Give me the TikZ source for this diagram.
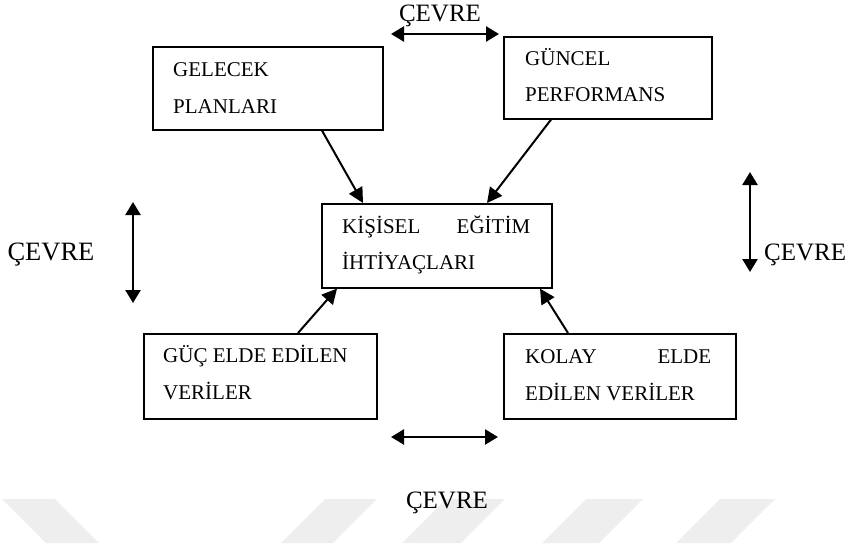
\documentclass[tikz,border=0pt]{standalone}
\usepackage{fontspec}
\setmainfont{Liberation Serif}
\usetikzlibrary{arrows.meta}

\begin{document}
\begin{tikzpicture}[x=1pt, y=-1pt,
    box/.style={draw, line width=1.6pt, inner sep=0pt, anchor=north west},
    txt/.style={anchor=base west, inner sep=0pt, font=\fontsize{21}{25}\selectfont},
    env/.style={anchor=base, inner sep=0pt, font=\fontsize{25}{30}\selectfont},
    arr/.style={line width=2pt, -{Triangle[length=15pt,width=15pt]}},
    dbl/.style={line width=2.4pt, {Triangle[length=13pt,width=15pt]}-{Triangle[length=13pt,width=15pt]}}]
    \definecolor{wm-gray}{rgb}{0.935,0.935,0.935}
    \useasboundingbox (0,0) rectangle (853,543);
    \fill[wm-gray] (2,499) -- (55,499) -- (99,543) -- (46,543) -- cycle;
    \fill[wm-gray] (325,499) -- (377,499) -- (333,543) -- (281,543) -- cycle;
    \fill[wm-gray] (446,499) -- (505,499) -- (461,543) -- (402,543) -- cycle;
    \fill[wm-gray] (586,499) -- (643,499) -- (599,543) -- (542,543) -- cycle;
    \fill[wm-gray] (720,499) -- (775,499) -- (731,543) -- (676,543) -- cycle;
    \node[box, minimum width=230pt, minimum height=83pt] (plan) at (152,46) {};
    \node[box, minimum width=208pt, minimum height=82pt] (perf) at (503,36) {};
    \node[box, minimum width=230pt, minimum height=84pt] (need) at (321,203) {};
    \node[box, minimum width=233pt, minimum height=85pt] (hard) at (143,333) {};
    \node[box, minimum width=232pt, minimum height=85pt] (easy) at (503,333) {};
    \node[txt] (plan1) at ([shift={(21,31)}]plan.north west) {GELECEK};
    \node[txt] (plan2) at ([shift={(21,67)}]plan.north west) {PLANLARI};
    \node[txt] (perf1) at ([shift={(22,29)}]perf.north west) {GÜNCEL};
    \node[txt] (perf2) at ([shift={(22,65)}]perf.north west) {PERFORMANS};
    \node[txt] (need1) at ([shift={(21,30)}]need.north west) {\makebox[188pt]{KİŞİSEL\hfill EĞİTİM}};
    \node[txt] (need2) at ([shift={(21,66)}]need.north west) {İHTİYAÇLARI};
    \node[txt] (hard1) at ([shift={(20,29)}]hard.north west) {GÜÇ ELDE EDİLEN};
    \node[txt] (hard2) at ([shift={(20,66)}]hard.north west) {VERİLER};
    \node[txt] (easy1) at ([shift={(22,30)}]easy.north west) {\makebox[186pt]{KOLAY\hfill ELDE}};
    \node[txt] (easy2) at ([shift={(22,67)}]easy.north west) {EDİLEN VERİLER};
    \draw[arr] ([xshift=170pt]plan.south west) -- ([xshift=42pt]need.north west);
    \draw[arr] ([xshift=48pt]perf.south west) -- ([xshift=166pt]need.north west);
    \draw[arr] ([xshift=155pt]hard.north west) -- ([xshift=16pt]need.south west);
    \draw[arr] ([xshift=65pt]easy.north west) -- ([xshift=219pt]need.south west);
    \node[env] (envtop) at (440,22) {ÇEVRE};
    \node[env, font=\fontsize{26.5}{30}\selectfont] (envleft) at (51,260) {ÇEVRE};
    \node[env, anchor=base west] (envright) at (764,260) {ÇEVRE};
    \node[env] (envbottom) at (447,508) {ÇEVRE};
    \coordinate (topL) at (391,34);
    \coordinate (topR) at (499,34);
    \coordinate (leftT) at (133,202);
    \coordinate (leftB) at (133,303);
    \coordinate (rightT) at (750,172);
    \coordinate (rightB) at (750,272);
    \coordinate (botL) at (391,437);
    \coordinate (botR) at (498,437);
    \draw[dbl] (topL) -- (topR);
    \draw[dbl] (leftT) -- (leftB);
    \draw[dbl] (rightT) -- (rightB);
    \draw[dbl] (botL) -- (botR);
\end{tikzpicture}
\end{document}
